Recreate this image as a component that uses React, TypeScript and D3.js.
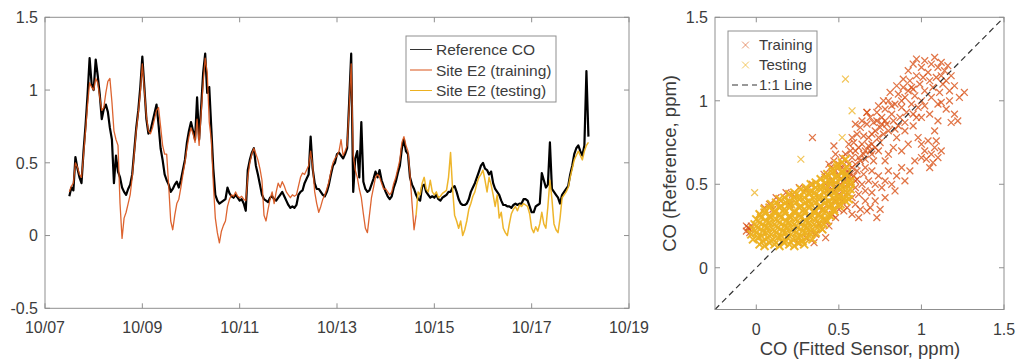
import React from "react";
import * as d3 from "d3";

// ---------- time-series data (hourly, starting 10/07 12:00) ----------
const SERIES_START = new Date(2017, 9, 7, 12, 0, 0);
const STEP_HOURS = 1;
const SPLIT_INDEX = 171; // first index of the testing period (shared point)

const referenceCO = [
  0.27,0.33,0.31,0.54,0.46,0.40,0.36,0.58,0.76,0.97,1.22,1.04,
  1.00,1.21,1.10,0.97,0.80,0.87,0.90,0.85,0.74,0.66,0.36,0.55,
  0.44,0.40,0.33,0.30,0.28,0.32,0.35,0.42,0.58,0.74,0.86,1.02,
  1.23,1.02,0.80,0.70,0.72,0.78,0.84,0.90,0.76,0.60,0.52,0.42,
  0.38,0.35,0.30,0.32,0.35,0.37,0.33,0.38,0.45,0.52,0.64,0.72,
  0.78,0.72,0.66,0.95,0.66,0.88,1.12,1.25,0.98,1.02,0.74,0.46,
  0.28,0.24,0.22,0.23,0.24,0.25,0.33,0.29,0.27,0.26,0.28,0.26,
  0.24,0.25,0.22,0.17,0.45,0.52,0.57,0.60,0.48,0.42,0.35,0.28,
  0.25,0.24,0.23,0.26,0.27,0.25,0.24,0.26,0.28,0.30,0.27,0.24,
  0.21,0.19,0.20,0.19,0.21,0.28,0.30,0.31,0.36,0.39,0.42,0.68,
  0.46,0.36,0.32,0.32,0.30,0.28,0.27,0.30,0.35,0.42,0.48,0.50,
  0.56,0.57,0.55,0.53,0.56,0.60,0.92,1.25,0.30,0.53,0.58,0.40,
  0.78,0.37,0.32,0.30,0.31,0.35,0.39,0.44,0.40,0.45,0.38,0.34,
  0.30,0.27,0.25,0.27,0.33,0.37,0.43,0.48,0.60,0.66,0.58,0.56,
  0.40,0.35,0.32,0.28,0.25,0.24,0.34,0.35,0.30,0.28,0.26,0.27,
  0.26,0.28,0.25,0.24,0.26,0.27,0.28,0.30,0.30,0.33,0.34,0.30,
  0.25,0.22,0.21,0.21,0.22,0.25,0.30,0.33,0.36,0.40,0.44,0.48,
  0.50,0.46,0.45,0.42,0.44,0.36,0.32,0.30,0.28,0.24,0.21,0.21,
  0.20,0.20,0.19,0.21,0.22,0.21,0.22,0.22,0.25,0.25,0.24,0.20,
  0.16,0.16,0.20,0.21,0.22,0.43,0.38,0.33,0.35,0.64,0.32,0.30,
  0.28,0.26,0.22,0.28,0.30,0.32,0.34,0.42,0.48,0.56,0.60,0.62,
  0.58,0.55,0.62,1.13,0.68,
];

const sensorE2 = [
  0.30,0.34,0.36,0.50,0.47,0.42,0.40,0.55,0.72,0.90,1.05,1.02,
  1.00,1.08,1.05,0.95,0.86,0.88,0.98,1.06,1.08,0.92,0.72,0.66,
  0.62,0.22,-0.02,0.12,0.16,0.22,0.28,0.40,0.56,0.72,0.84,0.98,
  1.18,1.00,0.82,0.72,0.70,0.74,0.80,0.86,0.88,0.75,0.62,0.56,
  0.56,0.34,0.10,0.04,0.14,0.22,0.25,0.33,0.42,0.50,0.60,0.68,
  0.74,0.70,0.64,0.80,0.62,0.84,1.05,1.22,1.12,0.78,0.66,0.36,
  0.12,0.02,-0.05,0.03,0.07,0.10,0.20,0.25,0.28,0.27,0.30,0.27,
  0.26,0.27,0.25,0.24,0.40,0.50,0.56,0.60,0.56,0.52,0.46,0.38,
  0.14,0.10,0.18,0.25,0.30,0.22,0.30,0.36,0.33,0.37,0.34,0.30,
  0.28,0.26,0.28,0.27,0.28,0.34,0.40,0.43,0.42,0.45,0.48,0.58,
  0.48,0.30,0.22,0.16,0.20,0.25,0.28,0.32,0.37,0.44,0.50,0.53,
  0.55,0.58,0.66,0.55,0.58,0.62,0.88,1.18,0.55,0.45,0.40,0.32,
  0.26,0.15,0.05,0.02,0.14,0.26,0.33,0.40,0.42,0.40,0.36,0.32,
  0.32,0.30,0.28,0.30,0.36,0.40,0.46,0.52,0.64,0.68,0.62,0.58,
  0.42,0.22,0.04,0.14,0.30,0.28,0.36,0.40,0.32,0.30,0.38,0.30,
  0.28,0.30,0.26,0.27,0.29,0.30,0.31,0.40,0.57,0.32,0.14,0.10,
  0.05,0.10,0.00,0.04,0.10,0.18,0.22,0.27,0.30,0.36,0.40,0.42,
  0.45,0.38,0.30,0.40,0.35,0.28,0.20,0.28,0.12,0.16,0.05,0.02,
  0.00,0.08,0.15,0.18,0.20,0.17,0.21,0.20,0.22,0.21,0.20,0.15,
  0.05,0.02,0.06,0.03,0.08,0.16,0.08,0.05,0.20,0.38,0.25,0.08,
  0.04,0.02,0.12,0.26,0.28,0.30,0.33,0.40,0.46,0.52,0.55,0.58,
  0.55,0.52,0.58,0.62,0.64,
];

const timeTickDates = [
  new Date(2017, 9, 7), new Date(2017, 9, 9), new Date(2017, 9, 11), new Date(2017, 9, 13),
  new Date(2017, 9, 15), new Date(2017, 9, 17), new Date(2017, 9, 19),
];
const timeTickLabels = ["10/07", "10/09", "10/11", "10/13", "10/15", "10/17", "10/19"];
const leftYTicks = [-0.5, 0, 0.5, 1, 1.5];
const leftYTickLabels = ["-0.5", "0", "0.5", "1", "1.5"];
const scatterTicks = [0, 0.5, 1, 1.5];
const scatterTickLabels = ["0", "0.5", "1", "1.5"];
const lineLegend = ["Reference CO", "Site E2 (training)", "Site E2 (testing)"];
const scatterLegend = ["Training", "Testing", "1:1 Line"];

// ---------- scatter data: [fitted sensor, reference] ----------
const trainingPts: [number, number][] = [
  [0.92,1.18],[0.95,1.22],[0.97,1.15],[1.0,1.2],[1.02,1.24],[1.04,1.17],[1.06,1.22],[1.08,1.26],[1.1,1.2],[1.12,1.23],
  [1.14,1.18],[1.16,1.21],[1.05,1.12],[1.09,1.14],[1.13,1.1],[0.99,1.1],[0.94,1.08],[1.02,1.06],[1.07,1.08],[1.11,1.05],
  [1.15,1.12],[1.18,1.15],[0.89,1.13],[0.97,1.25],[1.01,1.14],[1.06,1.02],[1.1,0.98],[1.17,1.06],[1.2,1.09],[1.12,1.15],
  [0.76,0.9],[0.78,0.95],[0.8,1.0],[0.82,0.92],[0.84,0.98],[0.86,1.04],[0.88,0.96],[0.9,1.02],[0.92,1.06],[0.94,0.98],
  [0.96,1.03],[0.79,0.86],[0.83,0.88],[0.87,0.9],[0.91,0.93],[0.95,0.92],[0.81,1.05],[0.85,1.09],[0.77,1.0],[0.74,0.97],
  [0.89,1.08],[0.93,1.12],[0.98,0.96],[1.0,1.0],[1.02,0.97],[0.86,0.85],[0.9,0.87],[0.97,0.9],[0.8,0.82],[0.84,0.83],
  [0.73,0.88],[0.75,0.84],[0.88,1.0],[0.82,0.97],[0.95,1.07],
  [0.56,0.62],[0.58,0.66],[0.6,0.7],[0.62,0.66],[0.64,0.74],[0.66,0.7],[0.68,0.78],[0.7,0.74],[0.72,0.82],[0.74,0.78],
  [0.76,0.86],[0.57,0.7],[0.59,0.75],[0.61,0.8],[0.63,0.84],[0.65,0.79],[0.67,0.86],[0.69,0.9],[0.71,0.87],[0.73,0.93],
  [0.55,0.58],[0.6,0.62],[0.63,0.64],[0.66,0.65],[0.69,0.7],[0.72,0.72],[0.75,0.75],[0.62,0.72],[0.65,0.68],[0.68,0.73],
  [0.7,0.8],[0.64,0.88],[0.6,0.86],[0.58,0.78],[0.67,0.93],[0.53,0.62],[0.54,0.68],[0.56,0.74],[0.7,0.68],[0.74,0.7],
  [0.77,0.8],[0.71,0.64],[0.66,0.6],[0.61,0.58],[0.78,0.88],
  [0.42,0.5],[0.44,0.55],[0.46,0.52],[0.48,0.58],[0.5,0.55],[0.52,0.6],[0.54,0.56],[0.45,0.6],[0.47,0.64],[0.5,0.62],
  [0.53,0.52],[0.56,0.54],[0.58,0.6],[0.49,0.48],[0.51,0.5],[0.55,0.5],[0.57,0.56],[0.43,0.46],[0.46,0.47],[0.59,0.55],
  [0.52,0.66],[0.48,0.68],[0.44,0.62],[0.41,0.56],[0.6,0.52],
  [0.85,0.78],[0.9,0.82],[0.95,0.85],[1.0,0.9],[1.05,0.92],[1.1,0.88],[1.15,0.95],[1.2,0.92],[1.23,1.02],[1.26,1.05],
  [1.18,0.87],[1.08,0.82],[0.98,0.78],[0.92,0.74],[0.88,0.7],[0.83,0.72],[0.8,0.68],[0.78,0.64],[1.12,0.99],[1.17,1.0],
  [1.0,0.74],[1.02,0.7],[1.04,0.76],[1.06,0.68],[1.08,0.72],[1.03,0.65],[1.07,0.63],[1.1,0.66],[1.05,0.6],[1.0,0.66],
  [1.09,0.76],[1.12,0.7],[1.22,0.88],
  [0.55,0.45],[0.58,0.42],[0.6,0.48],[0.62,0.44],[0.64,0.5],[0.66,0.46],[0.68,0.52],[0.7,0.45],[0.72,0.5],[0.74,0.55],
  [0.76,0.48],[0.78,0.52],[0.8,0.58],[0.82,0.5],[0.85,0.55],[0.88,0.6],[0.9,0.52],[0.93,0.58],[0.6,0.38],[0.63,0.35],
  [0.66,0.4],[0.69,0.36],[0.72,0.4],[0.75,0.35],[0.52,0.4],[0.55,0.36],[0.58,0.32],[0.62,0.3],[0.5,0.44],[0.48,0.4],
  [0.53,0.34],[0.65,0.56],[0.7,0.58],[0.78,0.42],[0.84,0.46],[0.57,0.5],[0.61,0.53],[0.67,0.34],[0.73,0.3],[0.96,0.64],
  [-0.06,0.22],[-0.05,0.24],[-0.04,0.21],[-0.03,0.25],[-0.06,0.25],[-0.04,0.23],
  [0.02,0.32],[0.05,0.36],[0.08,0.38],[0.12,0.42],[0.15,0.4],[0.18,0.45],[0.22,0.44],[0.26,0.48],[0.3,0.47],[0.34,0.5],
  [0.1,0.35],[0.2,0.38],
  [0.3,0.18],[0.33,0.22],[0.36,0.2],[0.38,0.26],[0.4,0.23],[0.42,0.28],[0.44,0.25],[0.46,0.32],[0.48,0.3],[0.35,0.15],
  [0.4,0.35],[0.45,0.38],[0.38,0.32],[0.5,0.35],[0.25,0.15],[0.42,0.18],
  [0.34,0.78],[0.67,0.93],[0.47,0.73],
];

const testingPts: [number, number][] = [
  [0.02,0.14],[0.05,0.13],[0.08,0.15],[0.11,0.14],[0.14,0.13],[0.17,0.15],[0.2,0.14],[0.23,0.13],[0.26,0.15],[0.29,0.14],
  [-0.02,0.17],[0.01,0.18],[0.04,0.16],[0.07,0.18],[0.1,0.17],[0.13,0.18],[0.16,0.16],[0.19,0.18],[0.22,0.17],[0.25,0.18],[0.28,0.16],[0.31,0.18],[0.34,0.17],
  [-0.03,0.2],[0.0,0.21],[0.03,0.19],[0.06,0.21],[0.09,0.2],[0.12,0.21],[0.15,0.19],[0.18,0.21],[0.21,0.2],[0.24,0.21],[0.27,0.19],[0.3,0.21],[0.33,0.2],[0.36,0.21],
  [-0.02,0.23],[0.01,0.24],[0.04,0.22],[0.07,0.24],[0.1,0.23],[0.13,0.24],[0.16,0.22],[0.19,0.24],[0.22,0.23],[0.25,0.24],[0.28,0.22],[0.31,0.24],[0.34,0.23],[0.37,0.24],[0.4,0.23],
  [-0.01,0.26],[0.02,0.27],[0.05,0.25],[0.08,0.27],[0.11,0.26],[0.14,0.27],[0.17,0.25],[0.2,0.27],[0.23,0.26],[0.26,0.27],[0.29,0.25],[0.32,0.27],[0.35,0.26],[0.38,0.27],[0.41,0.26],[0.43,0.28],
  [0.0,0.29],[0.03,0.3],[0.06,0.28],[0.09,0.3],[0.12,0.29],[0.15,0.3],[0.18,0.28],[0.21,0.3],[0.24,0.29],[0.27,0.3],[0.3,0.28],[0.33,0.3],[0.36,0.29],[0.39,0.3],[0.42,0.29],[0.45,0.31],
  [0.02,0.32],[0.05,0.33],[0.08,0.31],[0.11,0.33],[0.14,0.32],[0.17,0.33],[0.2,0.31],[0.23,0.33],[0.26,0.32],[0.29,0.33],[0.32,0.31],[0.35,0.33],[0.38,0.32],[0.41,0.33],[0.44,0.32],[0.47,0.34],
  [0.05,0.35],[0.08,0.36],[0.11,0.34],[0.14,0.36],[0.17,0.35],[0.2,0.36],[0.23,0.34],[0.26,0.36],[0.29,0.35],[0.32,0.36],[0.35,0.34],[0.38,0.36],[0.41,0.35],[0.44,0.36],[0.47,0.35],[0.5,0.37],
  [0.09,0.38],[0.12,0.39],[0.15,0.37],[0.18,0.39],[0.21,0.38],[0.24,0.39],[0.27,0.37],[0.3,0.39],[0.33,0.38],[0.36,0.39],[0.39,0.37],[0.42,0.39],[0.45,0.38],[0.48,0.39],[0.51,0.38],[0.54,0.4],
  [0.14,0.41],[0.17,0.42],[0.2,0.4],[0.23,0.42],[0.26,0.41],[0.29,0.42],[0.32,0.4],[0.35,0.42],[0.38,0.41],[0.41,0.42],[0.44,0.4],[0.47,0.42],[0.5,0.41],[0.53,0.42],[0.56,0.41],
  [0.2,0.44],[0.23,0.45],[0.26,0.43],[0.29,0.45],[0.32,0.44],[0.35,0.45],[0.38,0.43],[0.41,0.45],[0.44,0.44],[0.47,0.45],[0.5,0.43],[0.53,0.45],[0.56,0.44],
  [0.27,0.47],[0.3,0.48],[0.33,0.46],[0.36,0.48],[0.39,0.47],[0.42,0.48],[0.45,0.46],[0.48,0.48],[0.51,0.47],[0.54,0.48],[0.57,0.47],
  [0.33,0.5],[0.36,0.51],[0.39,0.49],[0.42,0.51],[0.45,0.5],[0.48,0.51],[0.51,0.49],[0.54,0.51],[0.57,0.5],
  [0.39,0.53],[0.42,0.54],[0.45,0.52],[0.48,0.54],[0.51,0.53],[0.54,0.54],[0.57,0.52],
  [0.43,0.56],[0.46,0.57],[0.49,0.55],[0.52,0.57],[0.55,0.56],
  [0.46,0.59],[0.49,0.6],[0.52,0.58],[0.55,0.6],
  [0.49,0.62],[0.52,0.63],[0.54,0.65],
];
const testingOutliers: [number, number][] = [
  [0.54,1.13],[0.58,0.94],[0.52,0.78],[0.27,0.65],[-0.01,0.45],
];

const ORANGE = "#D95319";
const YELLOW = "#EDB120";
const AXIS = "#8f8f8f";
const TEXT = "#3c3c3c";
const FONT = "'Liberation Sans', Arial, Helvetica, sans-serif";

function Cross({ x, y, color, opacity, width = 1.2, size = 3.4 }: { x: number; y: number; color: string; opacity: number; width?: number; size?: number }) {
  const s = size;
  return (
    <path
      d={`M${x - s},${y - s}L${x + s},${y + s}M${x - s},${y + s}L${x + s},${y - s}`}
      stroke={color}
      strokeOpacity={opacity}
      strokeWidth={width}
      fill="none"
    />
  );
}

export default function App() {
  // ----- left panel -----
  const L = { left: 45, right: 629, top: 17.3, bottom: 308.3 };
  const xT = d3.scaleTime().domain([timeTickDates[0], timeTickDates[timeTickDates.length - 1]]).range([L.left, L.right]);
  const yL = d3.scaleLinear().domain([-0.5, 1.5]).range([L.bottom, L.top]);
  const times = referenceCO.map((_, i) => new Date(SERIES_START.getTime() + i * STEP_HOURS * 3600 * 1000));
  const line = d3
    .line<number>()
    .x((_, i) => xT(times[i]))
    .y((d) => yL(d));
  const refPath = line(referenceCO) || "";
  const trainPath = line(sensorE2.slice(0, SPLIT_INDEX + 1)) || "";
  const testLine = d3
    .line<number>()
    .x((_, i) => xT(times[i + SPLIT_INDEX]))
    .y((d) => yL(d));
  const testPath = testLine(sensorE2.slice(SPLIT_INDEX)) || "";

  // ----- right panel -----
  const R = { left: 715, right: 1004, top: 17.3, bottom: 309.5 };
  const xS = d3.scaleLinear().domain([-0.25, 1.5]).range([R.left, R.right]);
  const yS = d3.scaleLinear().domain([-0.25, 1.5]).range([R.bottom, R.top]);

  const tick = 5;

  return (
    <svg
      width={1020}
      height={360}
      style={{ position: "absolute", left: 0, top: 0, background: "#fff" }}
      fontFamily={FONT}
    >
      <rect x={0} y={0} width={1020} height={360} fill="#fff" />

      {/* ======== LEFT PANEL ======== */}
      <path d={refPath} fill="none" stroke="#000" strokeWidth={2.2} strokeLinejoin="round" />
      <path d={trainPath} fill="none" stroke={ORANGE} strokeWidth={1.3} strokeOpacity={0.9} strokeLinejoin="round" />
      <path d={testPath} fill="none" stroke={YELLOW} strokeWidth={1.5} strokeOpacity={0.95} strokeLinejoin="round" />

      <rect x={L.left} y={L.top} width={L.right - L.left} height={L.bottom - L.top} fill="none" stroke={AXIS} strokeWidth={1} />
      {timeTickDates.map((d, i) => (
        <g key={"xt" + i}>
          <line x1={xT(d)} x2={xT(d)} y1={L.bottom} y2={L.bottom - tick} stroke={AXIS} />
          <line x1={xT(d)} x2={xT(d)} y1={L.top} y2={L.top + tick} stroke={AXIS} />
          <text x={xT(d)} y={333} textAnchor="middle" fontSize={16} fill={TEXT}>
            {timeTickLabels[i]}
          </text>
        </g>
      ))}
      {leftYTicks.map((v, i) => (
        <g key={"yt" + i}>
          <line x1={L.left} x2={L.left + tick} y1={yL(v)} y2={yL(v)} stroke={AXIS} />
          <line x1={L.right} x2={L.right - tick} y1={yL(v)} y2={yL(v)} stroke={AXIS} />
          <text x={38} y={yL(v)} dy="0.36em" textAnchor="end" fontSize={16} fill={TEXT}>
            {leftYTickLabels[i]}
          </text>
        </g>
      ))}

      {/* left legend */}
      <rect x={406} y={36} width={150} height={66} fill="#fff" stroke={AXIS} strokeWidth={1} />
      {lineLegend.map((lab, i) => {
        const cy = 49.5 + i * 20.5;
        const col = i === 0 ? "#333" : i === 1 ? ORANGE : YELLOW;
        return (
          <g key={"ll" + i}>
            <line x1={410} x2={432} y1={cy} y2={cy} stroke={col} strokeWidth={1} />
            <text x={436} y={cy} dy="0.36em" fontSize={15.5} fill={TEXT}>
              {lab}
            </text>
          </g>
        );
      })}

      {/* ======== RIGHT PANEL ======== */}
      {trainingPts.map((p, i) => (
        <Cross key={"tr" + i} x={xS(p[0])} y={yS(p[1])} color={ORANGE} opacity={0.8} width={1.3} />
      ))}
      {testingPts.map((p, i) => (
        <Cross key={"te" + i} x={xS(p[0])} y={yS(p[1])} color={YELLOW} opacity={0.95} width={2} size={4} />
      ))}
      {testingOutliers.map((p, i) => (
        <Cross key={"to" + i} x={xS(p[0])} y={yS(p[1])} color={YELLOW} opacity={0.75} width={1.2} />
      ))}
      <line
        x1={xS(-0.25)}
        y1={yS(-0.25)}
        x2={xS(1.5)}
        y2={yS(1.5)}
        stroke="#333"
        strokeWidth={1.2}
        strokeDasharray="6,4"
      />

      <rect x={R.left} y={R.top} width={R.right - R.left} height={R.bottom - R.top} fill="none" stroke={AXIS} strokeWidth={1} />
      {scatterTicks.map((v, i) => (
        <g key={"sx" + i}>
          <line x1={xS(v)} x2={xS(v)} y1={R.bottom} y2={R.bottom - tick} stroke={AXIS} />
          <line x1={xS(v)} x2={xS(v)} y1={R.top} y2={R.top + tick} stroke={AXIS} />
          <text x={xS(v)} y={335} textAnchor="middle" fontSize={16} fill={TEXT}>
            {scatterTickLabels[i]}
          </text>
          <line x1={R.left} x2={R.left + tick} y1={yS(v)} y2={yS(v)} stroke={AXIS} />
          <line x1={R.right} x2={R.right - tick} y1={yS(v)} y2={yS(v)} stroke={AXIS} />
          <text x={708} y={yS(v)} dy="0.36em" textAnchor="end" fontSize={16} fill={TEXT}>
            {scatterTickLabels[i]}
          </text>
        </g>
      ))}

      <text x={860} y={355} textAnchor="middle" fontSize={18.5} fill={TEXT}>
        CO (Fitted Sensor, ppm)
      </text>
      <text
        transform={`translate(676,${(R.top + R.bottom) / 2}) rotate(-90)`}
        textAnchor="middle"
        fontSize={18.5}
        fill={TEXT}
      >
        CO (Reference, ppm)
      </text>

      {/* right legend */}
      <rect x={728} y={31} width={89} height={65} fill="#fff" stroke={AXIS} strokeWidth={1} />
      {scatterLegend.map((lab, i) => {
        const cy = 45 + i * 20;
        return (
          <g key={"sl" + i}>
            {i === 0 && <Cross x={745.5} y={cy} color={ORANGE} opacity={0.6} width={1} />}
            {i === 1 && <Cross x={745.5} y={cy} color={YELLOW} opacity={0.7} width={1} />}
            {i === 2 && <line x1={732} x2={757} y1={cy} y2={cy} stroke="#333" strokeWidth={1.2} strokeDasharray="6,4" />}
            <text x={759} y={cy} dy="0.36em" fontSize={15} fill={TEXT}>
              {lab}
            </text>
          </g>
        );
      })}
    </svg>
  );
}
